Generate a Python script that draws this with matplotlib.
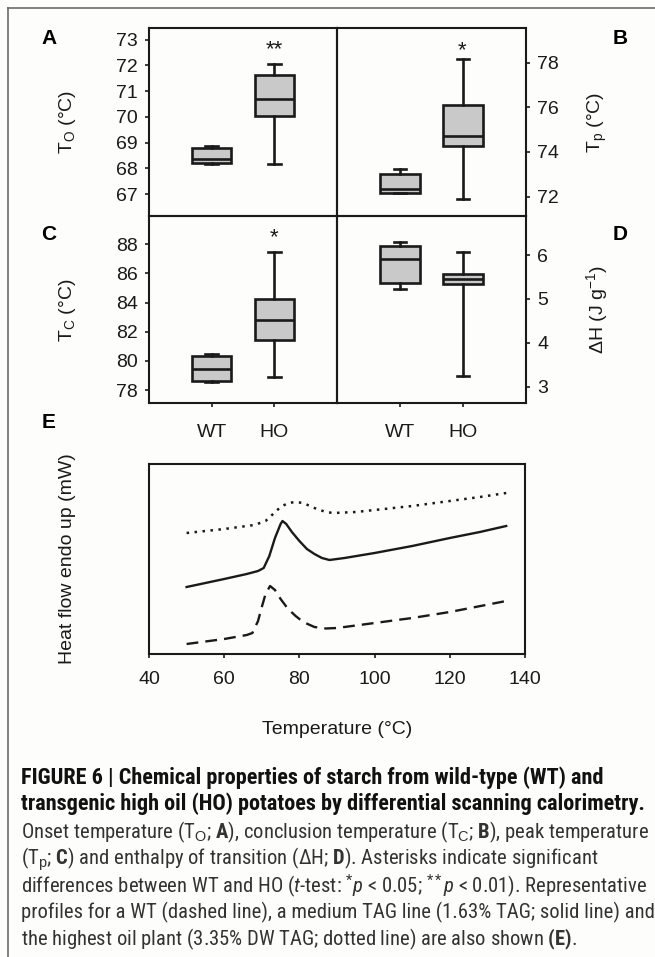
import matplotlib
matplotlib.use('Agg')
import matplotlib.pyplot as plt
from matplotlib import font_manager
from matplotlib.lines import Line2D

W, H = 655, 957

groups = ['WT', 'HO']
# box stats: whislo, q1, med, q3, whishi
to_wt = [68.15, 68.20, 68.37, 68.78, 68.88]
to_ho = [68.17, 70.05, 70.71, 71.61, 72.05]
tp_wt = [72.17, 72.17, 72.34, 73.02, 73.23]
tp_ho = [71.90, 74.28, 74.70, 76.10, 78.15]
tc_wt = [78.53, 78.64, 79.42, 80.35, 80.47]
tc_ho = [78.92, 81.43, 82.80, 84.22, 87.49]
dh_wt = [5.23, 5.37, 5.91, 6.21, 6.30]
dh_ho = [3.25, 5.34, 5.45, 5.56, 6.06]

# DSC profiles (arbitrary heat flow units)
t_dot = [50, 60, 68, 71, 73, 75, 77, 79, 81, 84, 87, 89, 95, 100, 110, 120, 128, 135]
hf_dot = [12.1, 12.5, 12.9, 13.3, 14.0, 14.7, 15.1, 15.2, 15.1, 14.6, 14.2, 14.1,
          14.2, 14.4, 14.8, 15.3, 15.7, 16.1]
t_solid = [50, 60, 66, 69, 70.5, 72, 73.5, 75, 75.5, 76.5, 78, 80, 82, 84, 86, 88,
           92, 100, 110, 120, 128, 135]
hf_solid = [6.7, 7.5, 8.0, 8.3, 8.6, 9.8, 11.6, 13.0, 13.3, 13.0, 12.2, 11.3, 10.5,
            10.0, 9.6, 9.4, 9.6, 10.1, 10.8, 11.6, 12.2, 12.8]
t_dash = [50, 60, 66, 67.5, 69, 70, 71, 72.2, 73.5, 75, 77, 79, 81, 84, 87, 90,
          100, 110, 120, 135]
hf_dash = [1.0, 1.5, 1.9, 2.1, 3.3, 4.7, 6.0, 6.8, 6.4, 5.5, 4.5, 3.8, 3.2, 2.7,
           2.55, 2.6, 3.1, 3.6, 4.2, 5.3]

names = {f.name for f in font_manager.fontManager.ttflist}
main_font = next((f for f in ['Liberation Sans', 'Arimo', 'Roboto'] if f in names), 'DejaVu Sans')
cap_font = next((f for f in ['Liberation Sans Narrow', 'Roboto Condensed', 'Liberation Sans',
                             'Roboto'] if f in names), 'DejaVu Sans')
plt.rcParams['font.family'] = [main_font, 'DejaVu Sans']
plt.rcParams['mathtext.fontset'] = 'custom'
plt.rcParams['mathtext.rm'] = cap_font
plt.rcParams['mathtext.it'] = cap_font + ':italic'
plt.rcParams['mathtext.bf'] = cap_font + ':bold'
plt.rcParams['mathtext.sf'] = main_font  # used for the subscripts

ink = '#1a1a1a'
fig = plt.figure(figsize=(W / 100, H / 100), dpi=100)
fig.patch.set_facecolor('#fdfdfc')


def rect(x0, y0, x1, y1):
    return [x0 / W, 1 - y1 / H, (x1 - x0) / W, (y1 - y0) / H]


def ftext(x, y, s, **kw):
    return fig.text(x / W, 1 - y / H, s, **kw)


def stats(v, label):
    return dict(whislo=v[0], q1=v[1], med=v[2], q3=v[3], whishi=v[4], label=label, fliers=[])


def box_panel(r, wt, ho, ylim, yticks, side, bottom):
    ax = fig.add_axes(rect(*r))
    ax.set_facecolor('none')
    lw = 1.9
    ax.bxp([stats(wt, groups[0]), stats(ho, groups[1])], positions=[1, 2],
           widths=0.62, capwidths=0.2, patch_artist=True, showfliers=False,
           boxprops=dict(facecolor='#c9c9c9', edgecolor=ink, linewidth=lw),
           medianprops=dict(color=ink, linewidth=lw),
           whiskerprops=dict(color=ink, linewidth=lw),
           capprops=dict(color=ink, linewidth=lw))
    ax.set_xlim(0, 3)
    ax.set_ylim(*ylim)
    ax.set_yticks(yticks)
    for s in ax.spines.values():
        s.set_linewidth(1.5)
        s.set_color(ink)
    if side == 'right':
        ax.yaxis.tick_right()
    ax.tick_params(axis='y', direction='out', length=3, width=1.2, labelsize=14,
                   pad=5, colors=ink)
    if bottom:
        ax.set_xticks([1, 2])
        ax.set_xticklabels(groups)
        ax.tick_params(axis='x', direction='out', length=3, width=1.2, labelsize=14,
                       pad=12, colors=ink)
    else:
        ax.set_xticks([])
    return ax


box_panel((149, 28, 337, 216), to_wt, to_ho, (66.15, 73.45), range(67, 74), 'left', False)
box_panel((337, 28, 526, 216), tp_wt, tp_ho, (71.13, 79.55), [72, 74, 76, 78], 'right', False)
box_panel((149, 216, 337, 403), tc_wt, tc_ho, (77.11, 89.94), range(78, 89, 2), 'left', True)
box_panel((337, 216, 526, 403), dh_wt, dh_ho, (2.63, 6.89), [3, 4, 5, 6], 'right', True)

# significance stars
ftext(274, 50, '**', fontsize=16, ha='center', va='center', color=ink)
ftext(462, 51, '*', fontsize=16, ha='center', va='center', color=ink)
ftext(274, 238, '*', fontsize=16, ha='center', va='center', color=ink)

# axis titles of box panels
lab = dict(fontsize=14, rotation=90, ha='center', va='center', color=ink)
ftext(67, 122, r'T$_\mathsf{O}$ (°C)', **lab)
ftext(597, 122, r'T$_\mathsf{p}$ (°C)', **lab)
ftext(67, 310, r'T$_\mathsf{C}$ (°C)', **lab)
ftext(597, 310, r'ΔH (J g$^{\mathsf{-1}}$)', **lab)

# panel letters
for x, y, s in [(49, 38, 'A'), (620, 38, 'B'), (49, 235, 'C'), (620, 235, 'D'), (49, 422, 'E')]:
    ftext(x, y, s, fontsize=15, fontweight='bold', ha='center', va='center', color='#000000')

# panel E: DSC thermograms
axe = fig.add_axes(rect(149, 464, 525, 654))
axe.set_facecolor('none')
axe.plot(t_dot, hf_dot, color=ink, lw=1.8, linestyle=(0, (1, 2.2)))
axe.plot(t_solid, hf_solid, color=ink, lw=1.7)
axe.plot(t_dash, hf_dash, color=ink, lw=1.7, linestyle=(0, (5, 3)))
axe.set_xlim(40, 140)
axe.set_ylim(0, 19)
axe.set_xticks(range(40, 141, 20))
axe.set_yticks([])
for s in axe.spines.values():
    s.set_linewidth(1.5)
    s.set_color(ink)
axe.tick_params(axis='x', direction='out', length=3, width=1.2, labelsize=14,
                pad=9, colors=ink)
ftext(67, 559, 'Heat flow endo up (mW)', **lab)
ftext(337, 730, 'Temperature (°C)', fontsize=14, ha='center', va='center', color=ink)

# page frame
fig.add_artist(Line2D([7.5 / W, 7.5 / W], [0, 1 - 8 / H], transform=fig.transFigure,
                      color='#6b6b6b', lw=1.2))
fig.add_artist(Line2D([7.5 / W, 1], [1 - 8 / H, 1 - 8 / H], transform=fig.transFigure,
                      color='#6b6b6b', lw=1.2))

# caption
cap_lines = [
    ('FIGURE 6 | Chemical properties of starch from wild-type (WT) and', 'bold', '#111111'),
    ('transgenic high oil (HO) potatoes by differential scanning calorimetry.', 'bold', '#111111'),
    (r'Onset temperature (T$_\mathsf{O}$; $\mathbf{A}$), conclusion temperature '
     r'(T$_\mathsf{C}$; $\mathbf{B}$), peak temperature', 'normal', '#333333'),
    (r'(T$_\mathsf{p}$; $\mathbf{C}$) and enthalpy of transition (ΔH; $\mathbf{D}$). '
     'Asterisks indicate significant', 'normal', '#333333'),
    (r'differences between WT and HO ($\mathit{t}$-test: $^{*}\mathit{p}$ < 0.05; '
     r'$^{**}\mathit{p}$ < 0.01). Representative', 'normal', '#333333'),
    ('profiles for a WT (dashed line), a medium TAG line (1.63% TAG; solid line) and',
     'normal', '#333333'),
    (r'the highest oil plant (3.35% DW TAG; dotted line) are also shown $\mathbf{(E)}$.',
     'normal', '#333333'),
]
cap_y = [778, 804, 832, 859, 886, 912, 939]
cap_texts = []
for (s, wgt, col), y in zip(cap_lines, cap_y):
    cap_texts.append(ftext(21, y, s, fontsize=14, fontweight=wgt, family=[cap_font, 'DejaVu Sans'],
                           ha='left', va='center', color=col))

# fit caption widths to the reference line lengths
fig.canvas.draw()
rend = fig.canvas.get_renderer()
bold_scale = 627 / cap_texts[1].get_window_extent(rend).width
norm_scale = 629 / cap_texts[4].get_window_extent(rend).width
for i, t in enumerate(cap_texts):
    t.set_fontsize(14 * (bold_scale if i < 2 else norm_scale))

fig.savefig('out.png', dpi=100, facecolor=fig.get_facecolor())
